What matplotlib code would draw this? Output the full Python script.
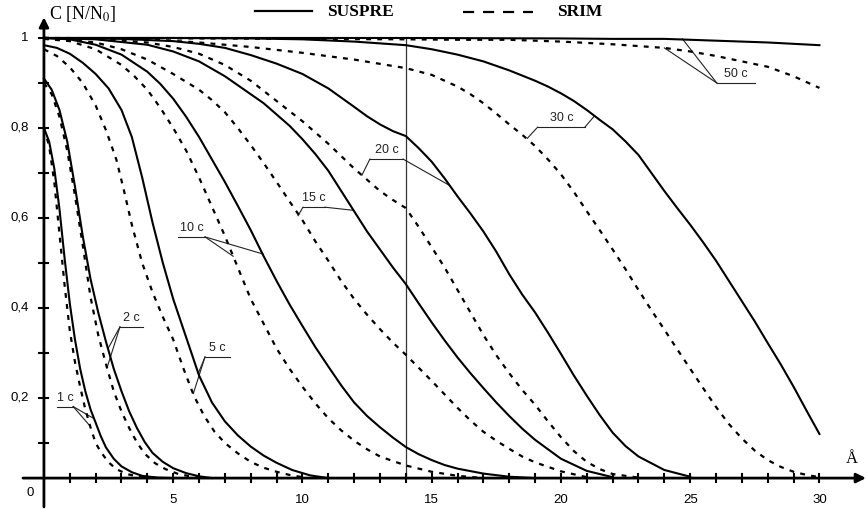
import matplotlib
matplotlib.use("Agg")
import matplotlib.pyplot as plt
from matplotlib.lines import Line2D

# --- data (depth in Angstrom, C = N/N0) ---
suspre_1_x = [0, 0.2, 0.4, 0.6, 0.8, 1.0, 1.2, 1.4, 1.6, 1.8, 2.0, 2.2, 2.4, 2.7, 3.0, 3.4, 3.8, 4.4, 5.0]
suspre_1_y = [0.80, 0.77, 0.71, 0.62, 0.51, 0.41, 0.33, 0.265, 0.215, 0.175, 0.145, 0.115, 0.09, 0.065, 0.048, 0.035, 0.027, 0.023, 0.022]
srim_1_x = [0, 0.2, 0.4, 0.6, 0.8, 1.0, 1.2, 1.4, 1.6, 1.8, 2.0, 2.2, 2.5, 2.8, 3.2, 3.7, 4.5]
srim_1_y = [0.80, 0.76, 0.68, 0.565, 0.45, 0.35, 0.28, 0.225, 0.175, 0.135, 0.10, 0.08, 0.057, 0.042, 0.031, 0.025, 0.022]

suspre_2_x = [0, 0.3, 0.6, 0.9, 1.2, 1.5, 1.8, 2.1, 2.4, 2.7, 3.0, 3.3, 3.6, 3.9, 4.2, 4.6, 5.0, 5.5, 6.0, 6.5]
suspre_2_y = [0.91, 0.885, 0.84, 0.77, 0.67, 0.56, 0.465, 0.39, 0.325, 0.265, 0.215, 0.17, 0.133, 0.102, 0.078, 0.058, 0.044, 0.033, 0.026, 0.022]
srim_2_x = [0, 0.3, 0.6, 0.9, 1.2, 1.5, 1.8, 2.1, 2.4, 2.7, 3.0, 3.3, 3.6, 3.9, 4.3, 4.7, 5.2, 6.0]
srim_2_y = [0.90, 0.875, 0.825, 0.75, 0.65, 0.54, 0.425, 0.34, 0.275, 0.215, 0.17, 0.133, 0.101, 0.076, 0.055, 0.042, 0.031, 0.022]

suspre_5_x = [0, 0.5, 1.0, 1.5, 2.0, 2.5, 3.0, 3.4, 3.8, 4.2, 4.6, 5.0, 5.5, 6.0, 6.5, 7.0, 7.5, 8.0, 8.5, 9.0, 9.6, 10.3, 11]
suspre_5_y = [0.984, 0.978, 0.965, 0.945, 0.92, 0.888, 0.84, 0.78, 0.69, 0.59, 0.50, 0.42, 0.335, 0.25, 0.19, 0.148, 0.117, 0.092, 0.072, 0.056, 0.04, 0.028, 0.022]
srim_5_x = [0, 0.5, 1.0, 1.5, 2.0, 2.4, 2.8, 3.1, 3.4, 3.8, 4.2, 4.6, 5.0, 5.4, 5.8, 6.2, 6.6, 7.0, 7.5, 8.0, 8.5, 9.0, 9.5, 10.2]
srim_5_y = [0.975, 0.96, 0.935, 0.9, 0.85, 0.795, 0.73, 0.66, 0.585, 0.50, 0.435, 0.38, 0.33, 0.265, 0.205, 0.16, 0.125, 0.10, 0.077, 0.058, 0.045, 0.036, 0.029, 0.022]

suspre_10_x = [0, 1, 2, 3, 4, 4.5, 5, 5.5, 6, 6.5, 7, 7.5, 8, 8.5, 9, 9.5, 10, 10.5, 11, 11.5, 12, 12.5, 13, 13.5, 14, 14.5, 15, 15.5, 16, 17, 18, 19]
suspre_10_y = [1.0, 0.997, 0.985, 0.963, 0.925, 0.898, 0.865, 0.825, 0.78, 0.73, 0.68, 0.627, 0.573, 0.515, 0.46, 0.408, 0.36, 0.313, 0.27, 0.228, 0.19, 0.16, 0.135, 0.112, 0.091, 0.075, 0.062, 0.051, 0.043, 0.032, 0.025, 0.022]
srim_10_x = [0, 1, 2, 3, 3.5, 4, 4.5, 5, 5.5, 6, 6.5, 7, 7.5, 8, 8.5, 9, 9.5, 10, 10.5, 11, 11.5, 12, 12.5, 13, 14, 15, 16, 17]
srim_10_y = [0.998, 0.993, 0.975, 0.94, 0.915, 0.885, 0.845, 0.80, 0.75, 0.69, 0.625, 0.56, 0.49, 0.42, 0.365, 0.31, 0.265, 0.225, 0.188, 0.155, 0.128, 0.105, 0.086, 0.07, 0.05, 0.036, 0.027, 0.022]

suspre_15_x = [0, 2, 4, 5, 6, 7, 7.5, 8, 8.5, 9, 9.5, 10, 10.5, 11, 11.5, 12, 12.5, 13, 13.5, 14, 14.5, 15, 15.5, 16, 16.5, 17, 17.5, 18, 18.5, 19, 20, 21, 22]
suspre_15_y = [1.0, 0.997, 0.985, 0.97, 0.948, 0.915, 0.895, 0.875, 0.855, 0.83, 0.805, 0.775, 0.742, 0.705, 0.66, 0.615, 0.57, 0.53, 0.49, 0.453, 0.41, 0.368, 0.328, 0.29, 0.255, 0.222, 0.19, 0.16, 0.132, 0.107, 0.065, 0.038, 0.024]
srim_15_x = [0, 2, 3, 4, 5, 6, 6.5, 7, 7.5, 8, 8.5, 9, 9.5, 10, 10.5, 11, 11.5, 12, 12.5, 13, 13.5, 14, 14.5, 15, 15.5, 16, 16.5, 17, 17.5, 18, 18.5, 19, 20, 21]
srim_15_y = [1.0, 0.99, 0.975, 0.952, 0.92, 0.885, 0.862, 0.835, 0.80, 0.762, 0.722, 0.68, 0.637, 0.595, 0.548, 0.505, 0.46, 0.42, 0.385, 0.353, 0.323, 0.296, 0.267, 0.238, 0.208, 0.178, 0.15, 0.125, 0.105, 0.087, 0.07, 0.057, 0.037, 0.024]

suspre_20_x = [0, 3, 5, 6, 7, 8, 9, 10, 11, 12, 12.5, 13, 13.5, 14, 14.5, 15, 15.5, 16, 16.5, 17, 17.5, 18, 18.5, 19, 19.5, 20, 20.5, 21, 21.5, 22, 22.5, 23, 24, 25]
suspre_20_y = [1.0, 0.998, 0.993, 0.987, 0.978, 0.962, 0.943, 0.92, 0.888, 0.847, 0.826, 0.808, 0.793, 0.782, 0.755, 0.725, 0.688, 0.648, 0.61, 0.57, 0.525, 0.475, 0.43, 0.39, 0.345, 0.298, 0.25, 0.205, 0.162, 0.123, 0.093, 0.07, 0.04, 0.025]
srim_20_x = [0, 2, 4, 5, 6, 7, 8, 9, 10, 11, 12, 12.5, 13, 13.5, 14, 14.5, 15, 15.5, 16, 16.5, 17, 17.5, 18, 18.5, 19, 19.5, 20, 20.5, 21, 21.5, 22, 23]
srim_20_y = [1.0, 0.998, 0.99, 0.98, 0.965, 0.94, 0.905, 0.86, 0.815, 0.765, 0.71, 0.685, 0.66, 0.64, 0.622, 0.58, 0.535, 0.49, 0.44, 0.39, 0.34, 0.295, 0.255, 0.218, 0.185, 0.148, 0.113, 0.082, 0.058, 0.042, 0.031, 0.023]

suspre_30_x = [0, 5, 8, 10, 12, 14, 15, 16, 17, 18, 19, 19.5, 20, 20.5, 21, 21.5, 22, 22.5, 23, 23.5, 24, 24.5, 25, 25.5, 26, 26.5, 27, 27.5, 28, 28.5, 29, 29.5, 30]
suspre_30_y = [1.0, 1.0, 0.999, 0.997, 0.992, 0.984, 0.975, 0.963, 0.948, 0.928, 0.905, 0.892, 0.877, 0.86, 0.84, 0.818, 0.797, 0.77, 0.74, 0.70, 0.66, 0.622, 0.585, 0.546, 0.505, 0.46, 0.415, 0.37, 0.322, 0.275, 0.225, 0.172, 0.12]
srim_30_x = [0, 4, 6, 8, 10, 12, 14, 15, 15.5, 16, 16.5, 17, 17.5, 18, 18.5, 19, 19.5, 20, 20.5, 21, 21.5, 22, 22.5, 23, 23.5, 24, 24.5, 25, 25.5, 26, 26.5, 27, 27.5, 28, 28.5, 29, 29.5, 30]
srim_30_y = [1.0, 0.997, 0.99, 0.98, 0.967, 0.952, 0.933, 0.918, 0.905, 0.892, 0.875, 0.855, 0.832, 0.808, 0.785, 0.76, 0.73, 0.697, 0.658, 0.615, 0.573, 0.53, 0.486, 0.44, 0.395, 0.352, 0.308, 0.265, 0.222, 0.18, 0.142, 0.11, 0.083, 0.062, 0.047, 0.036, 0.029, 0.024]

suspre_50_x = [0, 14, 20, 22, 24, 25, 26, 27, 28, 29, 30]
suspre_50_y = [1.0, 1.0, 0.999, 0.998, 0.998, 0.996, 0.994, 0.992, 0.99, 0.987, 0.984]
srim_50_x = [0, 6, 10, 14, 16, 18, 20, 22, 23, 24, 25, 26, 27, 28, 29, 30]
srim_50_y = [1.0, 0.999, 0.998, 0.997, 0.996, 0.996, 0.992, 0.986, 0.982, 0.978, 0.97, 0.96, 0.948, 0.936, 0.915, 0.889]

x_ticks = list(range(1, 31))
x_ticklabels = [5, 10, 15, 20, 25, 30]
y_ticks = [0.1, 0.2, 0.3, 0.4, 0.5, 0.6, 0.7, 0.8, 0.9, 1.0]
y_ticklabels = {0.2: "0,2", 0.4: "0,4", 0.6: "0,6", 0.8: "0,8", 1.0: "1"}
boundary_x = 14

suspre = [(suspre_1_x, suspre_1_y), (suspre_2_x, suspre_2_y), (suspre_5_x, suspre_5_y),
          (suspre_10_x, suspre_10_y), (suspre_15_x, suspre_15_y), (suspre_20_x, suspre_20_y),
          (suspre_30_x, suspre_30_y), (suspre_50_x, suspre_50_y)]
srim = [(srim_1_x, srim_1_y), (srim_2_x, srim_2_y), (srim_5_x, srim_5_y),
        (srim_10_x, srim_10_y), (srim_15_x, srim_15_y), (srim_20_x, srim_20_y),
        (srim_30_x, srim_30_y), (srim_50_x, srim_50_y)]

# label: text, underline start, underline end, leader origin, leader targets
labels = [
    ("1 c", (0.49, 0.181), (1.13, 0.181), (1.13, 0.181), [(1.91, 0.155), (1.78, 0.138)]),
    ("2 c", (2.94, 0.358), (3.83, 0.358), (2.94, 0.358), [(2.48, 0.31), (2.44, 0.267)]),
    ("5 c", (6.23, 0.291), (7.20, 0.291), (6.23, 0.291), [(5.97, 0.255), (5.78, 0.21)]),
    ("10 c", (5.18, 0.558), (6.23, 0.558), (6.23, 0.558), [(8.47, 0.52), (7.32, 0.515)]),
    ("15 c", (10.02, 0.624), (10.87, 0.624), None, []),
    ("20 c", (12.61, 0.731), (13.89, 0.731), None, []),
    ("30 c", (19.10, 0.802), (20.93, 0.802), None, []),
    ("50 c", (26.03, 0.900), (27.50, 0.900), (26.03, 0.900), [(24.7, 0.998), (24.0, 0.978)]),
]
# labels whose two ends each point at one curve
end_leaders = {
    "15 c": [(9.83, 0.605), (11.97, 0.617)],
    "20 c": [(12.3, 0.695), (15.7, 0.672)],
    "30 c": [(18.7, 0.777), (21.3, 0.827)],
}

fig = plt.figure(figsize=(8.67, 5.09), dpi=100)
ax = fig.add_axes([0, 0, 1, 1])
ax.set_xlim(-1.70, 31.84)
ax.set_ylim(-0.0467, 1.0844)
ax.axis("off")

x_axis_y = 0.022

for x, y in srim:
    ax.plot(x, y, color="black", lw=1.6, linestyle=(0, (2.2, 2.8)), zorder=3)
for x, y in suspre:
    ax.plot(x, y, color="black", lw=1.5, zorder=3, solid_joinstyle="round")

# boundary line
ax.plot([boundary_x, boundary_x], [x_axis_y, 1.0], color="#333333", lw=0.9, zorder=2)

# axes with arrows
ax.annotate("", xy=(0, 1.046), xytext=(0, -0.042),
            arrowprops=dict(arrowstyle="-|>", lw=2, color="black", mutation_scale=14, shrinkA=0, shrinkB=0))
ax.annotate("", xy=(31.8, x_axis_y), xytext=(-0.81, x_axis_y),
            arrowprops=dict(arrowstyle="-|>", lw=2, color="black", mutation_scale=14, shrinkA=0, shrinkB=0))

for v in y_ticks:
    ax.plot([-0.2, 0.17], [v, v], color="black", lw=1.5)
    if v in y_ticklabels:
        ax.text(-0.6, v, y_ticklabels[v], ha="right", va="center", fontsize=9.5, family="Liberation Sans")
for v in x_ticks:
    ax.plot([v, v], [x_axis_y - 0.008, x_axis_y + 0.008], color="black", lw=1.5)
for v in x_ticklabels:
    ax.text(v, -0.027, str(v), ha="center", va="center", fontsize=9.5, family="Liberation Sans")
ax.text(-0.54, -0.012, "0", ha="center", va="center", fontsize=9.5, family="Liberation Sans")

plt.rcParams["mathtext.fontset"] = "stix"
ax.text(0.2, 1.054, "C [N/N$_0$]", ha="left", va="center", fontsize=13, family="Liberation Serif")
ax.text(31.26, 0.064, "Å", ha="center", va="center", fontsize=12, family="Liberation Serif")

# curve labels
for text, p0, p1, origin, targets in labels:
    ax.plot([p0[0], p1[0]], [p0[1], p1[1]], color="#222222", lw=0.8)
    ax.text((p0[0] + p1[0]) / 2, p0[1] + 0.006, text, ha="center", va="bottom",
            fontsize=9, family="Liberation Sans", color="#222222")
    for t in targets:
        ax.plot([origin[0], t[0]], [origin[1], t[1]], color="#222222", lw=0.8)
    if text in end_leaders:
        a, b = end_leaders[text]
        ax.plot([p0[0], a[0]], [p0[1], a[1]], color="#222222", lw=0.8)
        ax.plot([p1[0], b[0]], [p1[1], b[1]], color="#222222", lw=0.8)

# legend drawn at the top
fig.add_artist(Line2D([0.294, 0.360], [0.978, 0.978], transform=fig.transFigure, color="black", lw=1.6))
fig.text(0.377, 0.976, "SUSPRE", ha="left", va="center", fontsize=12.5, fontweight="bold", family="Liberation Serif")
fig.add_artist(Line2D([0.534, 0.615], [0.976, 0.976], transform=fig.transFigure, color="black", lw=1.6,
                      linestyle=(0, (5.0, 4.0))))
fig.text(0.642, 0.976, "SRIM", ha="left", va="center", fontsize=12.5, fontweight="bold", family="Liberation Serif")

fig.savefig("out.png", dpi=100)
